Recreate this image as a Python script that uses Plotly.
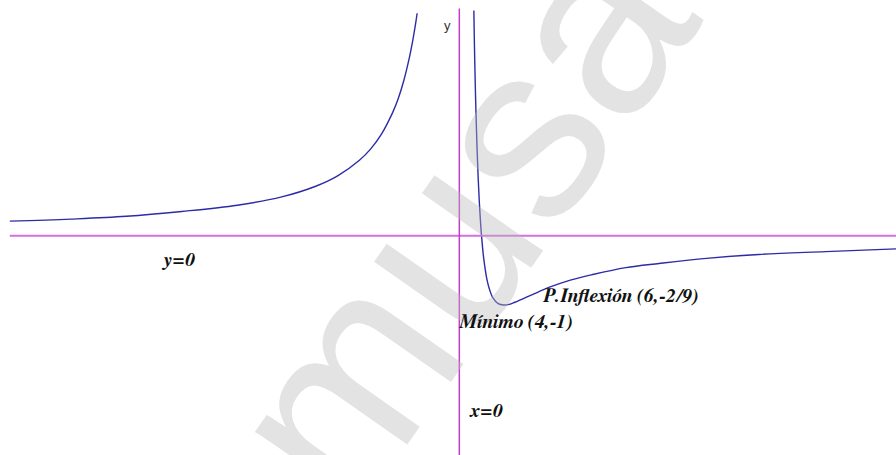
import plotly.graph_objects as go

# Left branch (x < 0) of the curve
left_x = [-40.5, -35, -30, -25, -20, -16, -13, -11, -9, -8, -7, -6, -5.5, -5, -4.5, -4.2, -4.0, -3.9, -3.8]
left_y = [0.21, 0.24, 0.28, 0.35, 0.44, 0.56, 0.71, 0.86, 1.09, 1.25, 1.47, 1.78, 1.98, 2.24, 2.57, 2.81, 3.00, 3.10, 3.21]

# Right branch (x > 0) of the curve
right_x = [1.31, 1.35, 1.4, 1.45, 1.5, 1.6, 1.7, 1.8, 1.9, 2.0, 2.2, 2.5, 2.75, 3.0, 3.5, 4.0, 4.5, 5, 6, 7, 8, 10, 12, 15, 18, 22, 27, 33, 39.4]
right_y = [3.25, 2.85, 2.45, 2.09, 1.78, 1.25, 0.83, 0.49, 0.22, 0.0, -0.33, -0.64, -0.79, -0.89, -0.98, -1.00, -0.99, -0.96, -0.89, -0.82, -0.75, -0.64, -0.56, -0.46, -0.40, -0.33, -0.27, -0.23, -0.19]

# Text labels: (text, x, y, anchor)
labels = [
    ("y=0", -25.3, -0.35, "center"),
    ("P.Inflexión (6,-2/9)", 7.35, -0.87, "left"),
    ("Mínimo (4,-1)", -0.2, -1.245, "left"),
    ("x=0", 0.72, -2.53, "left"),
]

X_RANGE = [-41.38, 39.34]
Y_RANGE = [-3.164, 3.401]

CURVE = "#2c2ca6"
SERIF = "FreeSerif, Liberation Serif, Times New Roman, serif"

fig = go.Figure()

# faint background watermark
fig.add_annotation(
    text="musat", x=1.68, y=0.63, xref="x", yref="y",
    showarrow=False, textangle=-55,
    font=dict(family="Liberation Sans, Arial, sans-serif", size=250,
              color="rgba(185,185,185,0.40)"),
)

# asymptotes / axes
fig.add_shape(type="line", x0=-40.5, x1=X_RANGE[1], y0=0, y1=0,
              line=dict(color="#d46fe0", width=2))
fig.add_shape(type="line", x0=0, x1=0, y0=Y_RANGE[0], y1=3.28,
              line=dict(color="#c83ccc", width=1.5))

for xs, ys in ((left_x, left_y), (right_x, right_y)):
    fig.add_trace(go.Scatter(
        x=xs, y=ys, mode="lines",
        line=dict(color=CURVE, width=1.4, shape="spline", smoothing=1.0),
        hoverinfo="skip", showlegend=False,
    ))

for text, x, y, anchor in labels:
    fig.add_annotation(
        text=f"<b><i>{text}</i></b>", x=x, y=y, xref="x", yref="y", showarrow=False,
        xanchor=anchor, yanchor="middle",
        font=dict(family=SERIF, size=20, color="#111111"),
    )

fig.add_annotation(
    text="y", x=-1.06, y=3.03, xref="x", yref="y", showarrow=False,
    font=dict(family="Liberation Sans, Arial, sans-serif", size=13, color="#333333"),
)

fig.update_xaxes(range=X_RANGE, visible=False, showgrid=False, zeroline=False)
fig.update_yaxes(range=Y_RANGE, visible=False, showgrid=False, zeroline=False)
fig.update_layout(
    width=896, height=455,
    margin=dict(l=0, r=0, t=0, b=0),
    paper_bgcolor="white", plot_bgcolor="white",
)

fig.write_html("out.html")
